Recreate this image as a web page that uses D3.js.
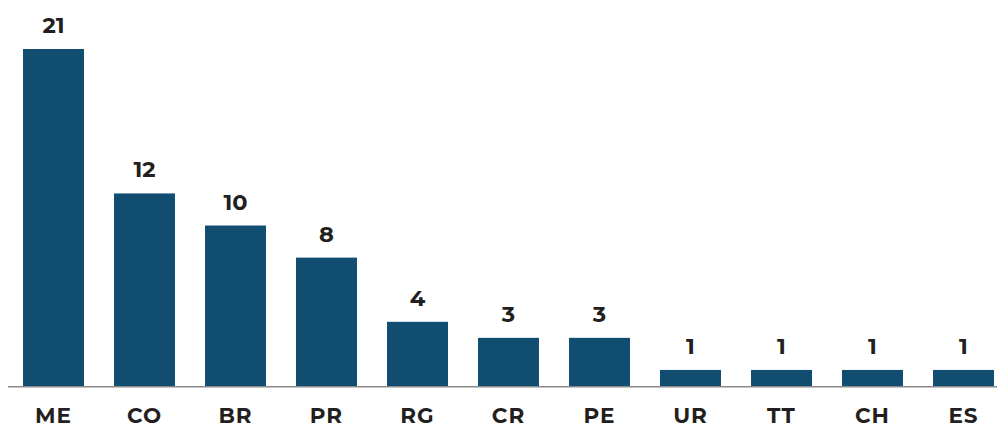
<!DOCTYPE html>
<html>
<head>
<meta charset="utf-8">
<script src="https://cdn.jsdelivr.net/npm/d3@7"></script>
<style>
  body { margin: 0; background: #fff; }
  svg { display: block; font-family: "Montserrat", "DejaVu Sans", sans-serif; }
</style>
</head>
<body>
<div id="chart"></div>
<script>
// Data
const categories = ["ME", "CO", "BR", "PR", "RG", "CR", "PE", "UR", "TT", "CH", "ES"];
const values = [21, 12, 10, 8, 4, 3, 3, 1, 1, 1, 1];

// Layout
const width = 997;
const height = 426;
const baseline = 386;
const topY = 49;

const x = d3.scaleBand()
    .domain(categories)
    .range([8, 1009])
    .paddingInner(0.33)
    .paddingOuter(0.165);

const y = d3.scaleLinear()
    .domain([0, 21])
    .range([baseline, topY]);

const svg = d3.select("#chart").append("svg")
    .attr("width", width)
    .attr("height", height)
    .attr("viewBox", [0, 0, width, height]);

// Bars
svg.append("g")
    .attr("fill", "#104d71")
  .selectAll("rect")
  .data(values)
  .join("rect")
    .attr("x", (d, i) => x(categories[i]))
    .attr("y", d => y(d))
    .attr("width", x.bandwidth())
    .attr("height", d => baseline - y(d));

// Value labels
svg.append("g")
    .attr("fill", "#231f20")
    .attr("font-size", 22.5)
    .attr("font-weight", "bold")
    .attr("text-anchor", "middle")
  .selectAll("text")
  .data(values)
  .join("text")
    .attr("x", (d, i) => x(categories[i]) + x.bandwidth() / 2)
    .attr("y", d => y(d) - 16)
    .text(d => d);

// X axis
const axis = svg.append("g")
    .attr("transform", `translate(0,${baseline})`)
    .call(d3.axisBottom(x).tickSize(0).tickPadding(0));
axis.select(".domain").remove();
axis.append("line")
    .attr("x1", 8)
    .attr("x2", width)
    .attr("y1", 0.75)
    .attr("y2", 0.75)
    .attr("stroke", "#8a8a8a")
    .attr("stroke-width", 1.5);
axis.selectAll(".tick text")
    .attr("dy", null)
    .attr("y", 37)
    .attr("fill", "#231f20")
    .attr("font-size", 21.5)
    .attr("font-weight", "bold")
    .attr("font-family", "\"Montserrat\", \"DejaVu Sans\", sans-serif")
    .attr("letter-spacing", 1);
</script>
</body>
</html>
